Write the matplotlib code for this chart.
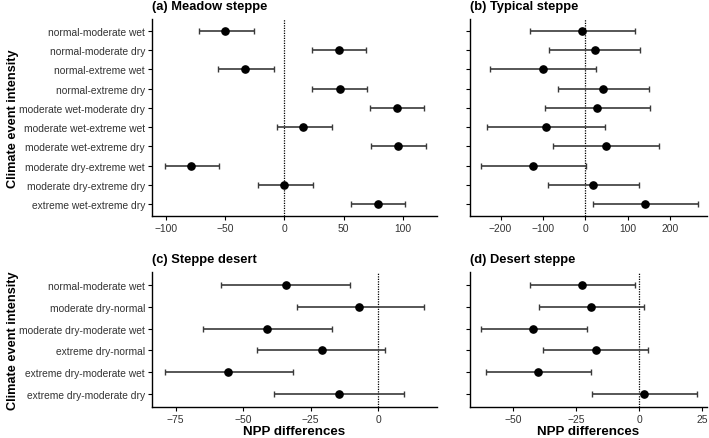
import numpy as np
import matplotlib.pyplot as plt

plt.rcParams['font.family'] = ['Liberation Sans', 'DejaVu Sans']

# categories (top to bottom)
cats_top = ["normal-moderate wet", "normal-moderate dry", "normal-extreme wet",
            "normal-extreme dry", "moderate wet-moderate dry", "moderate wet-extreme wet",
            "moderate wet-extreme dry", "moderate dry-extreme wet", "moderate dry-extreme dry",
            "extreme wet-extreme dry"]
cats_bot = ["normal-moderate wet", "moderate dry-normal", "moderate dry-moderate wet",
            "extreme dry-normal", "extreme dry-moderate wet", "extreme dry-moderate dry"]

# (a) Meadow steppe
meadow_est = [-50, 46, -33, 47, 95, 16, 96, -79, 0, 79]
meadow_lo = [-72, 23, -56, 23, 72, -6, 73, -101, -22, 56]
meadow_hi = [-26, 69, -9, 70, 118, 40, 119, -55, 24, 102]

# (b) Typical steppe
typical_est = [-8, 22, -101, 41, 28, -93, 48, -123, 19, 141]
typical_lo = [-130, -86, -224, -65, -96, -232, -76, -247, -87, 17]
typical_hi = [117, 129, 24, 149, 153, 46, 173, 2, 127, 265]

# (c) Steppe desert
sdesert_est = [-34, -7, -41, -21, -55.5, -14.6]
sdesert_lo = [-58, -30, -65, -45, -79, -38.4]
sdesert_hi = [-10.4, 17, -17, 2.6, -31.6, 9.4]

# (d) Desert steppe
dsteppe_est = [-22.7, -19, -42, -17.1, -40, 2.1]
dsteppe_lo = [-43.3, -39.6, -62.8, -37.9, -60.8, -18.6]
dsteppe_hi = [-1.8, 1.9, -20.8, 3.7, -19.1, 23.1]

fig = plt.figure(figsize=(7.09, 4.39), dpi=100)

W, H = 709, 439
def box(l, r, t, b):
    return [l / W, 1 - b / H, (r - l) / W, (b - t) / H]

ax_a = fig.add_axes(box(152, 437, 20, 217))
ax_b = fig.add_axes(box(470, 707, 20, 217))
ax_c = fig.add_axes(box(152, 437, 273, 408))
ax_d = fig.add_axes(box(470, 707, 273, 408))

panels = [
    (ax_a, "(a) Meadow steppe", cats_top, meadow_est, meadow_lo, meadow_hi, (-111.8, 128.7), [-100, -50, 0, 50, 100]),
    (ax_b, "(b) Typical steppe", cats_top, typical_est, typical_lo, typical_hi, (-272, 286.6), [-200, -100, 0, 100, 200]),
    (ax_c, "(c) Steppe desert", cats_bot, sdesert_est, sdesert_lo, sdesert_hi, (-83.7, 21.7), [-75, -50, -25, 0]),
    (ax_d, "(d) Desert steppe", cats_bot, dsteppe_est, dsteppe_lo, dsteppe_hi, (-67, 26.9), [-50, -25, 0, 25]),
]

for i, (ax, title, cats, est, lo, hi, xlim, xt) in enumerate(panels):
    n = len(cats)
    y = np.arange(n)[::-1]
    est = np.array(est)
    err = [est - np.array(lo), np.array(hi) - est]
    ax.axvline(0, color='black', linestyle=(0, (1, 1)), linewidth=0.9, zorder=1)
    ax.errorbar(est, y, xerr=err, fmt='none', ecolor='#3a3a3a', elinewidth=1.2,
                capsize=2.5, capthick=1.0, zorder=2)
    ax.plot(est, y, 'o', color='black', markersize=5.2, zorder=3)
    ax.set_ylim(-0.6, n - 1 + 0.6)
    ax.set_xlim(*xlim)
    ax.set_xticks(xt)
    ax.set_yticks(y)
    if i % 2 == 0:
        ax.set_yticklabels(cats)
        ax.set_ylabel("Climate event intensity", fontsize=9.2, fontweight='bold')
        ax.yaxis.set_label_coords(-0.467, 0.5)
    else:
        ax.set_yticklabels([])
    if i >= 2:
        ax.set_xlabel("NPP differences", fontsize=9.6, fontweight='bold')
        ax.xaxis.set_label_coords(0.5, -0.13)
    ax.set_title(title, loc='left', fontsize=9.3, fontweight='bold', pad=7.5)
    for s in ['top', 'right']:
        ax.spines[s].set_visible(False)
    for s in ['left', 'bottom']:
        ax.spines[s].set_linewidth(1.0)
    ax.tick_params(labelsize=7.4, labelcolor='#333333', color='black',
                   length=3, width=0.8, pad=2)

fig.savefig("out.png", dpi=100)
